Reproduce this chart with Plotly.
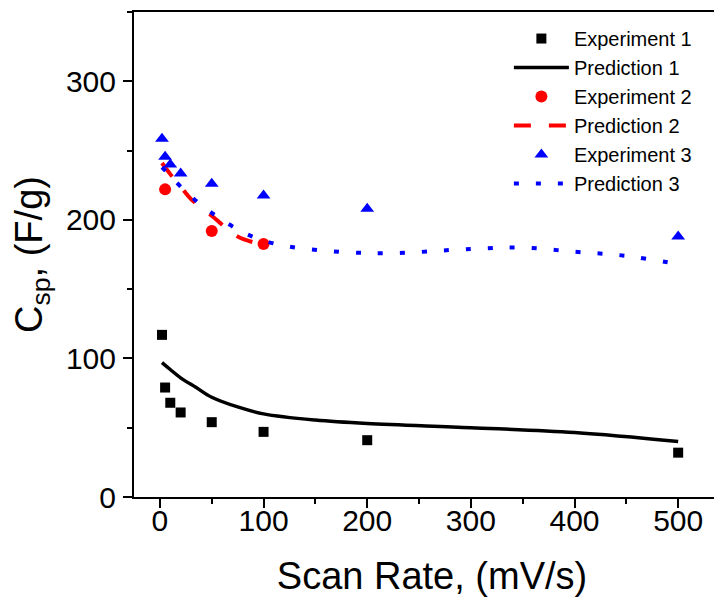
import plotly.graph_objects as go

# Data
exp1_x = [2, 5, 10, 20, 50, 100, 200, 500]
exp1_y = [117, 79, 68, 61, 54, 47, 41, 32]

pred1_x = [2, 10, 20, 35, 50, 75, 100, 150, 200, 300, 400, 500]
pred1_y = [97, 92, 86, 79, 72, 65, 60, 55.5, 53, 50, 46.5, 40]

exp2_x = [5, 50, 100]
exp2_y = [222, 192, 182.5]

pred2_x = [2, 10, 20, 30, 50, 75, 100]
pred2_y = [241, 233, 224, 215, 203, 188, 182]

exp3_x = [2, 5, 10, 20, 50, 100, 200, 500]
exp3_y = [258.5, 245.5, 240, 233.5, 226, 217.5, 208, 188]

pred3_x = [2, 10, 20, 50, 100, 200, 300, 350, 400, 450, 500]
pred3_y = [238, 232, 224, 205, 185, 176, 179, 180, 177, 174, 168]

FONT = "Liberation Sans, Arial"

fig = go.Figure()
fig.add_trace(go.Scatter(x=exp1_x, y=exp1_y, mode="markers", name="Experiment 1",
                         marker=dict(symbol="square", size=10, color="black")))
fig.add_trace(go.Scatter(x=pred1_x, y=pred1_y, mode="lines", name="Prediction 1",
                         line=dict(color="black", width=3.5, shape="spline")))
fig.add_trace(go.Scatter(x=exp2_x, y=exp2_y, mode="markers", name="Experiment 2",
                         marker=dict(symbol="circle", size=12, color="#ff0000")))
fig.add_trace(go.Scatter(x=pred2_x, y=pred2_y, mode="lines", name="Prediction 2",
                         line=dict(color="#ff0000", width=4, dash="17px,18px", shape="spline")))
fig.add_trace(go.Scatter(x=exp3_x, y=exp3_y, mode="markers", name="Experiment 3",
                         marker=dict(symbol="triangle-up", size=12, color="#0000ff")))
fig.add_trace(go.Scatter(x=pred3_x, y=pred3_y, mode="lines", name="Prediction 3",
                         line=dict(color="#0000ff", width=4, dash="5px,17px", shape="spline")))

axis_common = dict(
    showline=True, linecolor="black", linewidth=2, mirror=True,
    ticks="outside", ticklen=9, tickwidth=2, tickcolor="black",
    showgrid=False, zeroline=False, automargin=False,
    tickfont=dict(family=FONT, size=30, color="black"),
    minor=dict(ticks="outside", ticklen=5, tickwidth=2, tickcolor="black"),
)

fig.update_xaxes(range=[-25, 550], tickvals=[0, 100, 200, 300, 400, 500],
                 minor_dtick=50, minor_tick0=0, ticklabelstandoff=-13,
                 title=dict(text="Scan Rate, (mV/s)", standoff=26,
                            font=dict(family=FONT, size=38, color="black")),
                 **axis_common)
fig.update_yaxes(range=[0, 350], tickvals=[0, 100, 200, 300],
                 minor_dtick=50, minor_tick0=0, ticklabelstandoff=1,
                 title=dict(text="C<sub>sp</sub>, (F/g)", standoff=15,
                            font=dict(family=FONT, size=38, color="black")),
                 **axis_common)

fig.update_layout(
    width=722, height=593,
    margin=dict(l=126, r=0, t=4, b=104),
    paper_bgcolor="white", plot_bgcolor="white",
    showlegend=True,
    legend=dict(x=0.629, y=0.9855, xanchor="left", yanchor="top",
                bgcolor="rgba(0,0,0,0)", itemwidth=55,
                font=dict(family=FONT, size=20, color="black"),
                tracegroupgap=0),
)

fig.write_html("out.html")
